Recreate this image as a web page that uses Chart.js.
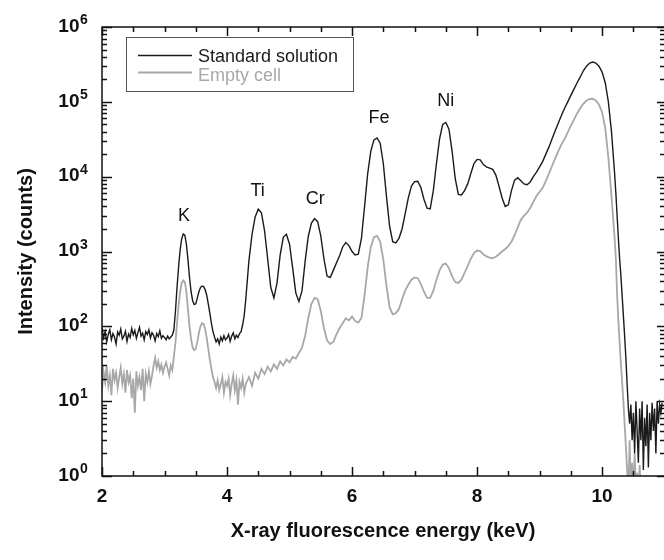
<!DOCTYPE html>
<html>
<head>
<meta charset="utf-8">
<script src="https://cdn.jsdelivr.net/npm/chart.js@4.4.1/dist/chart.umd.min.js"></script>
<style>
html,body{margin:0;padding:0;background:#fff;}
canvas{display:block;}
</style>
</head>
<body>
<canvas id="c" width="664" height="560"></canvas>
<script>
// ---------- DATA ----------
const energy = [
  2.000,2.025,2.050,2.075,2.100,2.125,2.150,2.175,2.200,2.225,
  2.250,2.275,2.300,2.325,2.350,2.375,2.400,2.425,2.450,2.475,
  2.500,2.525,2.550,2.575,2.600,2.625,2.650,2.675,2.700,2.725,
  2.750,2.775,2.800,2.825,2.850,2.875,2.900,2.925,2.950,2.975,
  3.000,3.025,3.050,3.075,3.100,3.125,3.150,3.175,3.200,3.225,
  3.250,3.275,3.300,3.325,3.350,3.375,3.400,3.425,3.450,3.475,
  3.500,3.525,3.550,3.575,3.600,3.625,3.650,3.675,3.700,3.725,
  3.750,3.775,3.800,3.825,3.850,3.875,3.900,3.925,3.950,3.975,
  4.000,4.025,4.050,4.075,4.100,4.125,4.150,4.175,4.200,4.225,
  4.250,4.275,4.300,
  4.35,4.40,4.45,4.50,4.55,4.60,4.65,4.70,4.75,4.80,
  4.85,4.90,4.95,5.00,5.05,5.10,5.15,5.20,5.25,5.30,
  5.35,5.40,5.45,5.50,5.55,5.60,5.65,5.70,5.75,5.80,
  5.85,5.90,5.95,6.00,6.05,6.10,6.15,6.20,6.25,6.30,
  6.35,6.40,6.45,6.50,6.55,6.60,6.65,6.70,6.75,6.80,
  6.85,6.90,6.95,7.00,7.05,7.10,7.15,7.20,7.25,7.30,
  7.35,7.40,7.45,7.50,7.55,7.60,7.65,7.70,7.75,7.80,
  7.85,7.90,7.95,8.00,8.05,8.10,8.15,8.20,8.25,8.30,
  8.35,8.40,8.45,8.50,8.55,8.60,8.65,8.70,8.75,8.80,
  8.85,8.90,8.95,9.00,9.05,9.10,9.15,9.20,9.25,9.30,
  9.35,9.40,9.45,9.50,9.55,9.60,9.65,9.70,9.75,9.80,
  9.85,9.90,9.95,10.00,10.05,10.10,10.15,10.20,
  10.22,10.24,10.26,10.28,10.30,10.32,10.34,10.36,10.38,10.40,
  10.42,10.44,10.46,10.48,10.50,10.52,10.54,10.56,10.58,10.60,
  10.62,10.64,10.66,10.68,10.70,10.72,10.74,10.76,10.78,10.80,
  10.82,10.84,10.86,10.88,10.90,10.92,10.94,10.96
];

const countsStandard = [
  95,70,85,62,78,90,66,80,72,58,
  84,76,92,68,74,86,63,79,71,94,
  77,88,69,83,97,74,81,66,85,78,
  90,70,82,76,64,80,73,87,69,75,
  71,66,74,68,72,76,90,160,330,620,
  1050,1480,1720,1650,1250,780,450,290,220,195,
  200,240,290,330,345,340,310,260,200,150,
  110,85,72,62,68,58,72,64,75,66,
  70,78,63,74,82,68,76,71,80,85,
  105,140,230,
  750,1700,2900,3700,3300,1900,800,330,240,380,
  900,1550,1700,1250,600,280,215,300,750,1600,
  2400,2750,2500,1600,800,470,450,560,700,880,
  1150,1320,1200,1000,900,920,1500,4000,11000,22000,
  31000,33000,28000,15000,5500,2200,1350,1300,1500,2000,
  3200,5200,7500,8600,8700,7200,5000,3800,3700,6500,
  15000,32000,50000,53000,43000,22000,9500,5800,5700,6500,
  8000,11000,15000,17000,16800,14500,13500,13000,12500,10500,
  7500,5200,4000,4200,6500,9000,9700,8800,8000,7800,
  8500,10000,11500,13500,16000,20000,25000,32000,41000,52000,
  66000,82000,100000,122000,148000,180000,215000,260000,300000,330000,
  340000,330000,300000,250000,180000,100000,40000,11000,
  6000,3000,1500,800,480,260,140,75,38,17,
  8,5,9,3,7,2,10,4,1.5,8,
  3,10,1.2,6,2.5,9,1.3,7,3,9.5,
  4,8,2,10,5,9,7,9.5
];

const countsEmpty = [
  14,25,18,30,16,22,12,27,19,24,
  15,21,28,17,23,13,26,18,22,11,
  20,7,25,16,21,14,27,10,23,18,
  25,17,22,30,38,28,34,26,31,24,
  29,33,27,22,30,26,40,60,110,190,
  290,380,410,390,290,170,100,68,52,48,
  50,62,82,100,110,108,92,70,50,36,
  27,21,18,15,19,14,17,21,13,18,
  16,20,12,17,22,14,19,9,18,15,
  20,13,17,
  21,16,24,20,27,23,29,25,31,27,
  34,30,36,33,39,37,44,52,75,130,
  200,240,230,160,95,65,58,62,78,95,
  110,128,120,135,118,112,130,260,620,1150,
  1550,1620,1350,780,350,180,145,150,170,230,
  300,360,420,450,440,370,290,240,240,300,
  420,560,670,690,600,470,390,380,420,520,
  640,800,950,1030,1010,920,860,830,810,850,
  920,1000,1080,1180,1350,1650,2100,2650,3000,3300,
  3800,4600,5500,6300,7100,8800,11000,14000,17500,22000,
  27000,32000,39000,48000,58000,70000,82000,94000,104000,109000,
  110000,104000,92000,72000,45000,18000,5500,1500,
  800,260,120,60,32,18,10,5,2.5,1.2,
  0.5,3,0.6,1.5,0.5,2,0.7,1.1,0.5,1.4,
  0.6,0.5,0.9,0.5,0.7,0.5,0.6,0.5,0.8,0.5,
  0.6,0.5,0.7,0.5,0.6,0.5,0.7,0.5
];

const seriesNames = ['Standard solution', 'Empty cell'];
const xTickLabels = [2, 4, 6, 8, 10];
const yDecadeExponents = [0, 1, 2, 3, 4, 5, 6];
const peakNames = ['K', 'Ti', 'Cr', 'Fe', 'Ni'];
const peakEnergies = [3.31, 4.49, 5.41, 6.43, 7.50];
const peakLabelCounts = [3000, 6500, 5100, 61000, 103000];

if (energy.length !== countsStandard.length || energy.length !== countsEmpty.length) {
  console.error('length mismatch', energy.length, countsStandard.length, countsEmpty.length);
}

// ---------- CHART ----------
const FONT = '"Liberation Sans", Arial, Helvetica, sans-serif';
Chart.defaults.font.family = FONT;

const decorations = {
  id: 'decorations',
  afterDraw(chart) {
    const {ctx, chartArea: a, scales: {x, y}} = chart;
    ctx.save();
    ctx.strokeStyle = '#111';
    ctx.lineWidth = 1.5;
    // frame: left, top, bottom (right axis lies just beyond the picture edge)
    ctx.beginPath();
    ctx.moveTo(a.right + 2, a.top); ctx.lineTo(a.left, a.top);
    ctx.lineTo(a.left, a.bottom); ctx.lineTo(a.right + 2, a.bottom);
    ctx.stroke();
    // x ticks (bottom and top, inward)
    ctx.beginPath();
    for (let v = x.min; v <= x.max + 1e-9; v += 0.5) {
      const px = Math.round(x.getPixelForValue(v)) + 0.5;
      const major = xTickLabels.includes(v);
      const len = major ? 9 : 5;
      ctx.moveTo(px, a.bottom); ctx.lineTo(px, a.bottom - len);
      ctx.moveTo(px, a.top); ctx.lineTo(px, a.top + len);
    }
    // y ticks (left and right, inward)
    for (const d of yDecadeExponents) {
      for (let m = 1; m <= 9; m++) {
        const v = m * Math.pow(10, d);
        if (v > y.max * 1.0001) break;
        const py = Math.round(y.getPixelForValue(v)) + 0.5;
        ctx.moveTo(a.left, py); ctx.lineTo(a.left + (m === 1 ? 10 : 5), py);
        ctx.moveTo(a.right, py); ctx.lineTo(a.right - (m === 1 ? 7 : 4), py);
      }
    }
    ctx.stroke();

    ctx.fillStyle = '#111';
    // x tick labels
    ctx.font = 'bold 19px ' + FONT;
    ctx.textAlign = 'center';
    ctx.textBaseline = 'middle';
    for (const v of xTickLabels) {
      ctx.fillText(String(v), x.getPixelForValue(v), 497);
    }
    // y tick labels 10^n
    for (const d of yDecadeExponents) {
      const py = y.getPixelForValue(Math.pow(10, d));
      ctx.font = 'bold 19px ' + FONT;
      ctx.textAlign = 'right';
      ctx.textBaseline = 'middle';
      ctx.fillText('10', 79.5, py - 0.5);
      ctx.font = 'bold 14px ' + FONT;
      ctx.textAlign = 'left';
      ctx.textBaseline = 'alphabetic';
      ctx.fillText(String(d), 80, py - 3);
    }

    // peak labels
    ctx.font = '18px ' + FONT;
    ctx.textAlign = 'center';
    ctx.textBaseline = 'middle';
    peakNames.forEach((n, i) => {
      ctx.fillText(n, x.getPixelForValue(peakEnergies[i]), y.getPixelForValue(peakLabelCounts[i]));
    });

    // legend
    ctx.lineWidth = 1;
    ctx.strokeStyle = '#555';
    ctx.strokeRect(126.5, 37.5, 227, 54);
    const rowsY = [55.5, 72.5];
    const textY = [57, 76];
    chart.data.datasets.forEach((ds, i) => {
      ctx.strokeStyle = ds.borderColor;
      ctx.lineWidth = ds.borderWidth;
      ctx.beginPath();
      ctx.moveTo(138, rowsY[i]); ctx.lineTo(192, rowsY[i]);
      ctx.stroke();
      ctx.fillStyle = ds.borderColor;
      ctx.font = '18px ' + FONT;
      ctx.textAlign = 'left';
      ctx.textBaseline = 'middle';
      ctx.fillText(ds.label, 198, textY[i]);
    });
    ctx.restore();
  }
};

new Chart(document.getElementById('c'), {
  type: 'line',
  data: {
    datasets: [
      {
        label: seriesNames[0],
        data: energy.map((e, i) => ({x: e, y: countsStandard[i]})),
        borderColor: '#1a1a1a',
        borderWidth: 1.4,
        pointRadius: 0,
        tension: 0
      },
      {
        label: seriesNames[1],
        data: energy.map((e, i) => ({x: e, y: countsEmpty[i]})),
        borderColor: '#a8a8a8',
        borderWidth: 1.8,
        pointRadius: 0,
        tension: 0
      }
    ]
  },
  options: {
    responsive: false,
    animation: false,
    devicePixelRatio: 1,
    layout: {padding: {left: 0, right: 0, top: 27, bottom: 0}},
    plugins: {legend: {display: false}, tooltip: {enabled: false}},
    scales: {
      x: {
        type: 'linear',
        min: 2,
        max: 10.99,
        afterFit(s) { s.height = 84; },
        grid: {display: false, drawTicks: false},
        border: {display: false},
        ticks: {display: false, stepSize: 0.5},
        title: {
          display: true,
          text: 'X-ray fluorescence energy (keV)',
          color: '#111',
          font: {size: 20, weight: 'bold'},
          padding: {top: 0, bottom: 17}
        }
      },
      y: {
        type: 'logarithmic',
        min: 1,
        max: 1e6,
        afterFit(s) { s.width = 102; },
        grid: {display: false, drawTicks: false},
        border: {display: false},
        ticks: {display: false},
        title: {
          display: true,
          text: 'Intensity (counts)',
          color: '#111',
          font: {size: 20, weight: 'bold'},
          padding: {top: 14, bottom: 0}
        }
      }
    }
  },
  plugins: [decorations]
});
</script>
</body>
</html>
